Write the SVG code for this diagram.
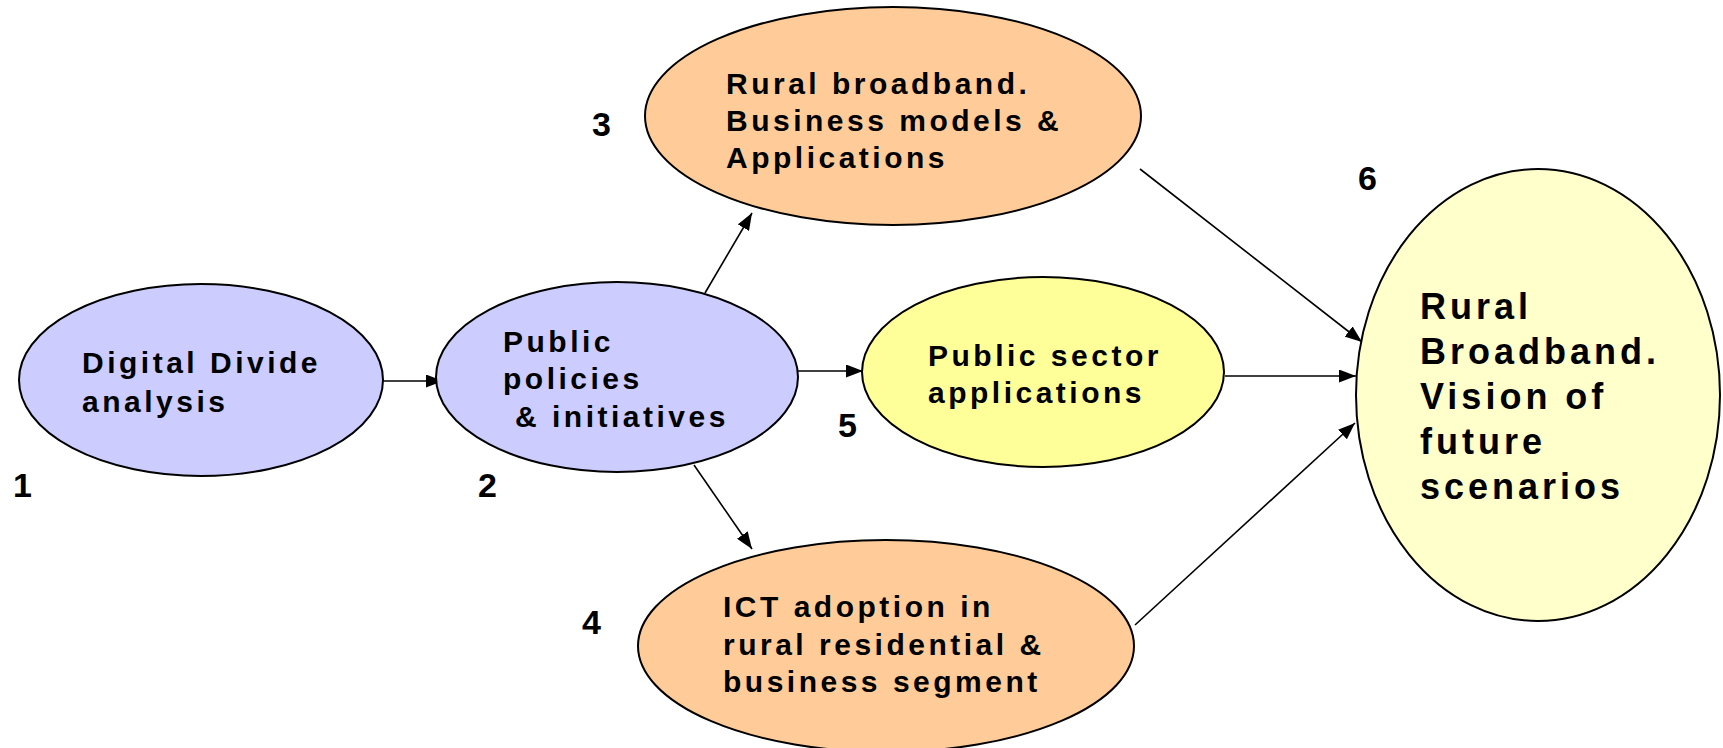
<svg xmlns="http://www.w3.org/2000/svg" width="1723" height="748" viewBox="0 0 1723 748">
<style>
  .node { stroke: #000; stroke-width: 2; }
  .blue { fill: #CCCCFF; }
  .orange { fill: #FFCC99; }
  .yellow { fill: #FFFF99; }
  .pale { fill: #FFFFCC; }
  .lbl { font-family: "Liberation Sans", Arial, sans-serif; font-weight: bold; font-size: 30px; letter-spacing: 3.5px; fill: #000; }
  .big { font-size: 36px; letter-spacing: 4px; }
  .num { font-family: "Liberation Sans", Arial, sans-serif; font-weight: bold; font-size: 34px; fill: #000; }
  .conn { stroke: #000; stroke-width: 1.6; fill: none; marker-end: url(#arrow); }
</style>
<defs>
  <marker id="arrow" markerUnits="userSpaceOnUse" markerWidth="17" markerHeight="13" refX="17" refY="6.5" orient="auto">
    <path d="M0,0 L17,6.5 L0,13 z" fill="#000"/>
  </marker>
</defs>
<rect width="1723" height="748" fill="#fff"/>
<g id="connectors">
  <line class="conn" x1="382" y1="381" x2="443" y2="381"/>
  <line class="conn" x1="797" y1="371" x2="863" y2="371"/>
  <line class="conn" x1="705" y1="293" x2="752" y2="213"/>
  <line class="conn" x1="694" y1="465" x2="752" y2="549"/>
  <line class="conn" x1="1140" y1="169" x2="1362" y2="342"/>
  <line class="conn" x1="1225" y1="376" x2="1356" y2="376"/>
  <line class="conn" x1="1135" y1="625" x2="1355" y2="423"/>
</g>
<g id="node1">
  <ellipse class="node blue" cx="201" cy="380" rx="182" ry="96"/>
  <text class="lbl" x="82" y="373">Digital Divide</text>
  <text class="lbl" x="82" y="412">analysis</text>
  <text class="num" x="13" y="497">1</text>
</g>
<g id="node2">
  <ellipse class="node blue" cx="617" cy="377" rx="181" ry="95"/>
  <text class="lbl" x="503" y="352">Public</text>
  <text class="lbl" x="503" y="389">policies</text>
  <text class="lbl" x="515" y="427">&amp; initiatives</text>
  <text class="num" x="478" y="497">2</text>
</g>
<g id="node3">
  <ellipse class="node orange" cx="893" cy="116" rx="248" ry="109"/>
  <text class="lbl" x="726" y="94">Rural broadband.</text>
  <text class="lbl" x="726" y="131">Business models &amp;</text>
  <text class="lbl" x="726" y="168">Applications</text>
  <text class="num" x="592" y="136">3</text>
</g>
<g id="node4">
  <ellipse class="node orange" cx="886" cy="646" rx="248" ry="106"/>
  <text class="lbl" x="723" y="617">ICT adoption in</text>
  <text class="lbl" x="723" y="655">rural residential &amp;</text>
  <text class="lbl" x="723" y="692">business segment</text>
  <text class="num" x="582" y="634">4</text>
</g>
<g id="node5">
  <ellipse class="node yellow" cx="1043" cy="372" rx="181" ry="95"/>
  <text class="lbl" x="928" y="366">Public sector</text>
  <text class="lbl" x="928" y="403">applications</text>
  <text class="num" x="838" y="437">5</text>
</g>
<g id="node6">
  <ellipse class="node pale" cx="1538" cy="395" rx="182" ry="226"/>
  <text class="lbl big" x="1420" y="319">Rural</text>
  <text class="lbl big" x="1420" y="364">Broadband.</text>
  <text class="lbl big" x="1420" y="409">Vision of</text>
  <text class="lbl big" x="1420" y="454">future</text>
  <text class="lbl big" x="1420" y="499">scenarios</text>
  <text class="num" x="1358" y="190">6</text>
</g>
</svg>
